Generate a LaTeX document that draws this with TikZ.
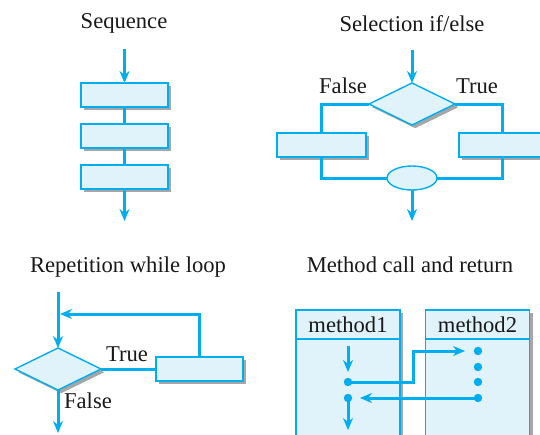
\documentclass[tikz,border=0pt]{standalone}
\usepackage{fontspec}
\setmainfont{Liberation Serif}
\usetikzlibrary{
    arrows.meta,
    positioning,
    shapes.geometric,
    shadows
}
\usepackage{xcolor}
\definecolor{azul}{RGB}{0,174,239}
\definecolor{azulclaro}{RGB}{224,242,250}

\begin{document}
\begin{tikzpicture}[
    x=0.5pt, y=-0.5pt,
    node distance=8.5pt,
    every node/.style={font=\fontsize{11.3}{13}\selectfont, text=black!90},
    sombra/.style={
        general shadow={fill=black!35, shadow xshift=1.6pt, shadow yshift=-1.6pt}
    },
    bloco/.style={
        draw=azul,
        fill=azulclaro,
        line width=0.8pt,
        minimum width=43.5pt,
        minimum height=12pt,
        inner sep=0pt,
        outer sep=0pt,
        sombra
    },
    losango/.style={
        diamond,
        draw=azul,
        fill=azulclaro,
        line width=0.7pt,
        minimum width=43pt,
        minimum height=21pt,
        inner sep=0pt,
        outer sep=0pt,
        sombra
    },
    elipse/.style={
        ellipse,
        draw=azul,
        fill=azulclaro,
        line width=0.7pt,
        minimum width=25pt,
        minimum height=12pt,
        inner sep=0pt,
        outer sep=0pt
    },
    ponto/.style={
        circle,
        fill=azul,
        minimum size=4.2pt,
        inner sep=0pt
    },
    linha/.style={
        draw=azul,
        line width=1.5pt
    },
    seta/.style={
        linha,
        -{Stealth[length=6pt, width=5pt]}
    }
]
\clip (0,0) rectangle (540,434);

% Sequence
\node[anchor=base] (tituloSeq) at (124,28) {Sequence};
\coordinate (seqIn) at (124.5,49);
\node[bloco] (seq1) at (124.5,95) {};
\node[bloco, below=of seq1] (seq2) {};
\node[bloco, below=of seq2] (seq3) {};
\coordinate (seqOut) at (124.5,221);

\draw[seta] (seqIn) -- (seq1);
\draw[linha] (seq1) -- (seq2);
\draw[linha] (seq2) -- (seq3);
\draw[seta] (seq3) -- (seqOut);

% Selection if/else
\node[anchor=base] (tituloSel) at (412,31) {Selection if/else};
\coordinate (selIn) at (412,50);
\node[losango] (sel) at (412,104) {};
\node[bloco, minimum width=44.5pt] (selF) at (321.5,145) {};
\node[bloco] (selT) at (502.5,145) {};
\node[elipse] (junta) at (412,178) {};
\coordinate (selOut) at (412,221);
\node[anchor=base] (rotF) at (343,93) {False};
\node[anchor=base] (rotT) at (477,93) {True};

\draw[seta] (selIn) -- (sel);
\draw[linha] (sel.west) -| (selF);
\draw[linha] (sel.east) -| (selT);
\draw[linha] (selF) |- (junta);
\draw[linha] (selT) |- (junta);
\draw[seta] (junta) -- (selOut);

% Repetition while loop
\node[anchor=base] (tituloRep) at (128,272) {Repetition while loop};
\coordinate (repIn) at (58,292);
\node[losango] (rep) at (58,369) {};
\node[bloco] (repCorpo) at (199.5,369) {};
\coordinate (repVolta) at (60,314);
\coordinate (repOut) at (58,433);
\node[anchor=base] (rotRepT) at (127,361) {True};
\node[anchor=base] (rotRepF) at (88,408) {False};

\draw[seta] (repIn) -- (rep);
\draw[linha] (rep) -- (repCorpo);
\draw[seta] (repCorpo) |- (repVolta);
\draw[seta] (rep) -- (repOut);

% Method call and return
\node[anchor=base] (tituloMet) at (410,272) {Method call and return};
\node[bloco, minimum width=52pt, minimum height=14.5pt] (m1) at (348,324.5) {method1};
\node[bloco, minimum width=52pt, minimum height=60pt, below=0pt of m1] (m1corpo) {};
\node[bloco, minimum width=52pt, minimum height=14.5pt] (m2) at (477.5,324.5) {method2};
\node[bloco, minimum width=52pt, minimum height=60pt, below=0pt of m2] (m2corpo) {};

\node[ponto] (d1) at (348,382) {};
\node[ponto] (d2) at (348,398) {};
\node[ponto] (e1) at (478,351) {};
\node[ponto] (e2) at (478,367) {};
\node[ponto] (e3) at (478,382) {};
\node[ponto] (e4) at (478,398) {};

\coordinate (m1topo) at (348,346);
\coordinate (m1seta) at (348,372);
\coordinate (desvio) at (413,351);
\coordinate (chegada) at (465,351);
\coordinate (retorno) at (360,398);
\coordinate (m1fim) at (348,430);

\draw[seta] (m1topo) -- (m1seta);
\draw[seta] (d1.center) -| (desvio) -- (chegada);
\draw[seta] (e4.center) -- (retorno);
\draw[seta] (d2.center) -- (m1fim);

\end{tikzpicture}
\end{document}
